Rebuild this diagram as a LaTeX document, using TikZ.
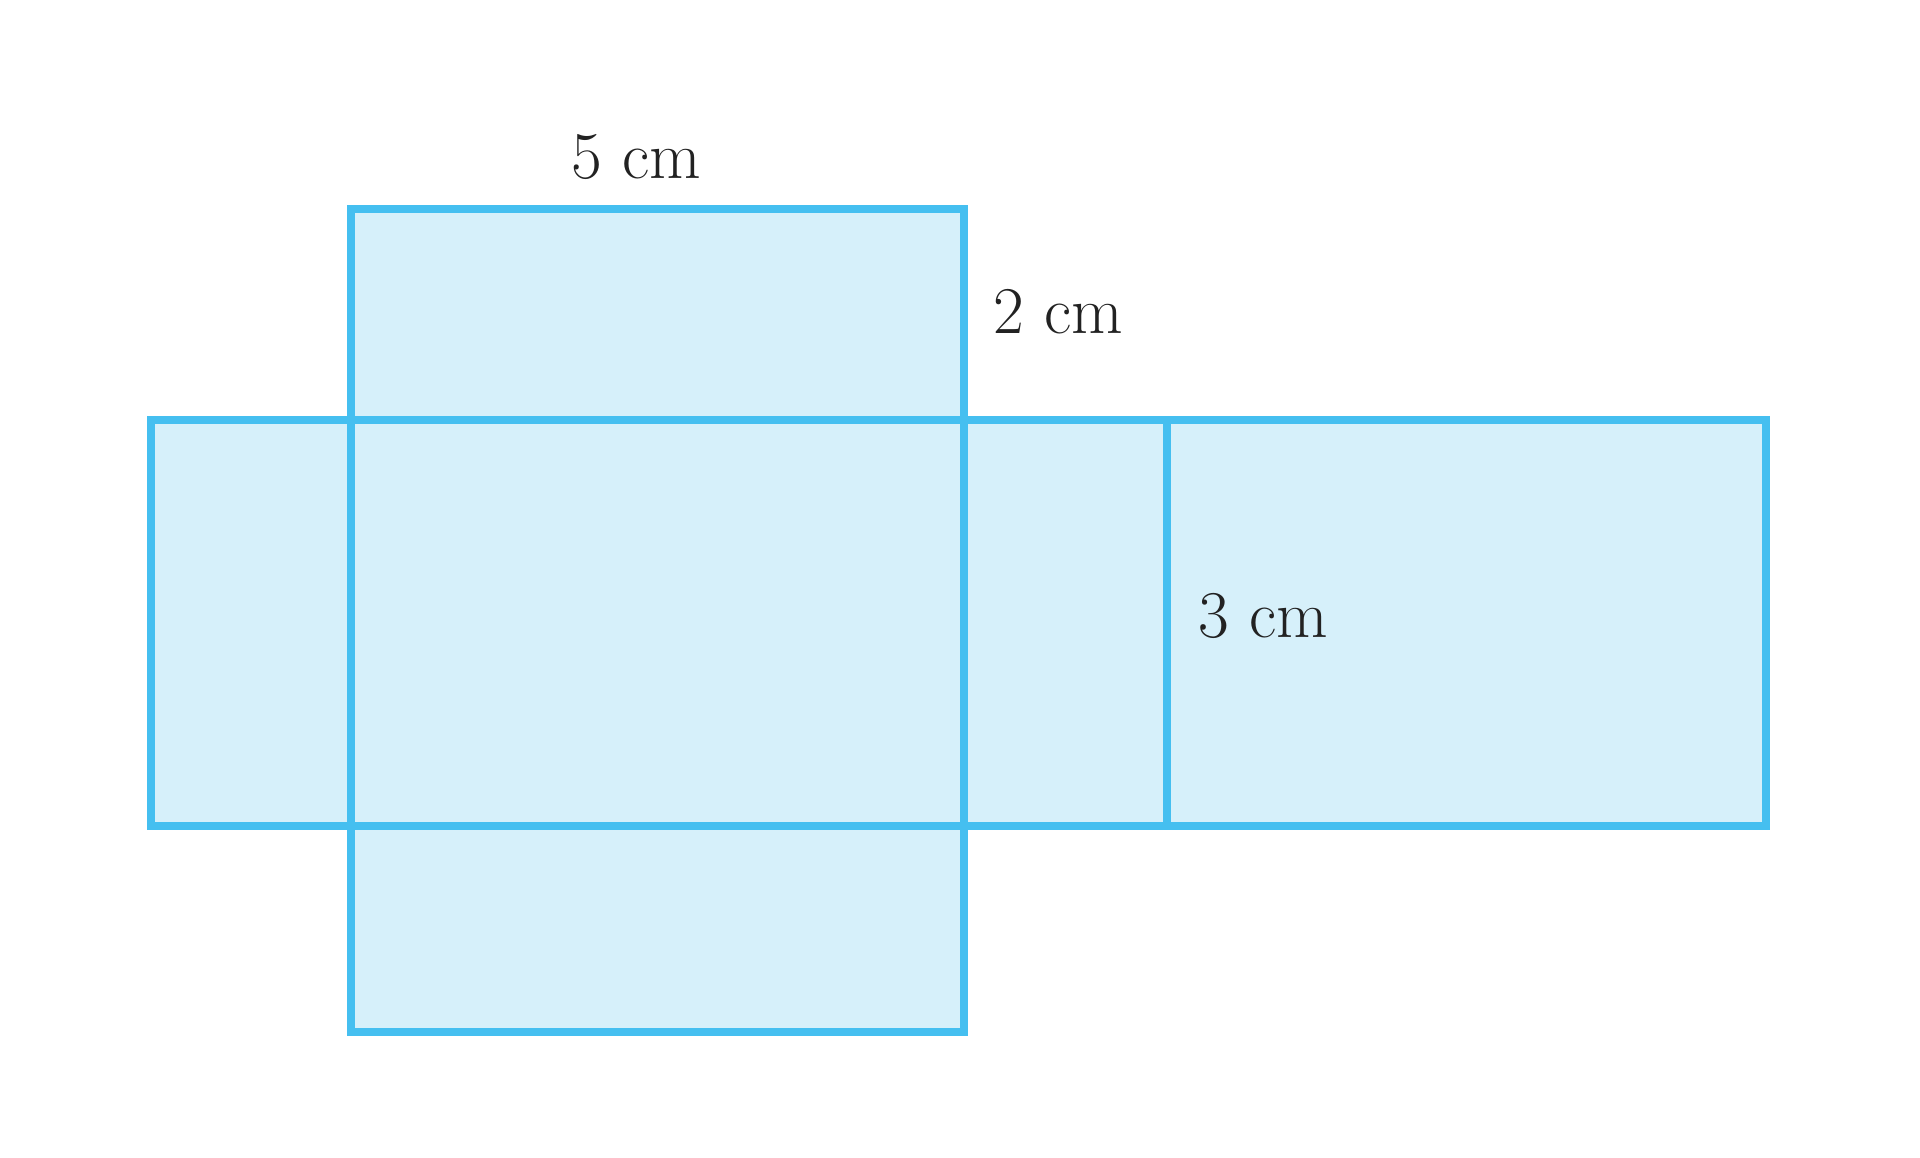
\documentclass[tikz,border=0pt]{standalone}
\usepackage{tikz}
\usetikzlibrary{positioning, calc}
\definecolor{netLine}{HTML}{45BFF0}
\definecolor{netFill}{HTML}{D6F0FA}
\definecolor{netText}{HTML}{222222}
\tikzstyle{face} =[draw=netLine, fill=netFill, line width=2.4pt]
\tikzstyle{dimlabel} =[text=netText, font=\fontsize{19}{23}\selectfont, inner sep=0pt]

\begin{document}
\begin{tikzpicture}
\useasboundingbox (0,0) rectangle (19.2,11.58);

%faces
\draw[face] (3.51,7.38) rectangle (9.64,9.49);
\draw[face] (1.51,3.32) rectangle (3.51,7.38);
\draw[face] (3.51,3.32) rectangle (9.64,7.38);
\draw[face] (9.64,3.32) rectangle (11.67,7.38);
\draw[face] (11.67,3.32) rectangle (17.66,7.38);
\draw[face] (3.51,1.26) rectangle (9.64,3.32);

%labels
\node (lenLabel) [dimlabel] at (6.36,10.01) {5 cm};
\node (widLabel) [dimlabel] at (10.58,8.46) {2 cm};
\node (hgtLabel) [dimlabel] at (12.63,5.42) {3 cm};

\end{tikzpicture}
\end{document}
